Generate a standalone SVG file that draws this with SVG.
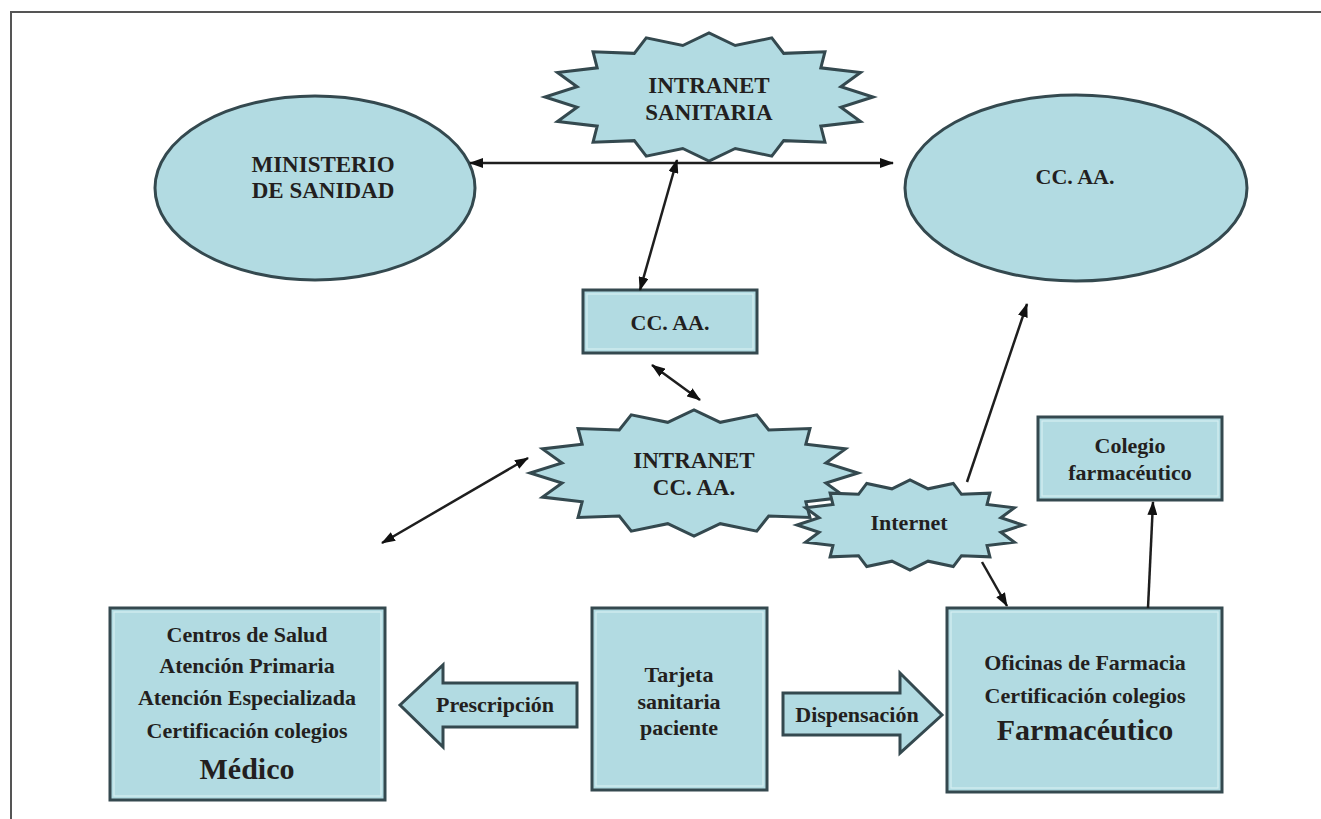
<svg xmlns="http://www.w3.org/2000/svg" xmlns:xlink="http://www.w3.org/1999/xlink" width="1321" height="819" viewBox="0 0 1321 819">
<style>
.shape{fill:#b2dbe2;stroke:#34494f;stroke-width:3}
.inner{fill:none;stroke:#d6eef2;stroke-width:1.2}
.star{fill:#b2dbe2;stroke:#34494f;stroke-width:3;vector-effect:non-scaling-stroke;stroke-linejoin:miter}
.t{font-family:'Liberation Serif','DejaVu Serif',serif;font-weight:bold;fill:#231f20;text-anchor:middle}
.conn{stroke:#1e1e1e;stroke-width:2.5;fill:none}
</style>
<defs>
<marker id="ah" viewBox="0 0 14 10" refX="13" refY="5" markerWidth="14" markerHeight="10" markerUnits="userSpaceOnUse" orient="auto-start-reverse">
<path d="M0,0 L14,5 L0,10 z" fill="#111"/>
</marker>
<polygon id="star" class="star" points="1,0 .8043,.16 .9239,.3827 .6818,.4556 .7071,.7071 .4556,.6818 .3827,.9239 .16,.8043 0,1 -.16,.8043 -.3827,.9239 -.4556,.6818 -.7071,.7071 -.6818,.4556 -.9239,.3827 -.8043,.16 -1,0 -.8043,-.16 -.9239,-.3827 -.6818,-.4556 -.7071,-.7071 -.4556,-.6818 -.3827,-.9239 -.16,-.8043 0,-1 .16,-.8043 .3827,-.9239 .4556,-.6818 .7071,-.7071 .6818,-.4556 .9239,-.3827 .8043,-.16"/>
</defs>
<rect width="1321" height="819" fill="#fff"/>
<path d="M11,819 V12 H1321" fill="none" stroke="#555" stroke-width="2"/>

<g id="ministerio">
<ellipse class="shape" cx="315" cy="188" rx="160" ry="92"/>
<text class="t" x="323" y="172" font-size="23">MINISTERIO</text>
<text class="t" x="323" y="198" font-size="23">DE SANIDAD</text>
</g>
<g id="ccaa-top">
<ellipse class="shape" cx="1076" cy="188" rx="171" ry="93"/>
<text class="t" x="1075" y="184" font-size="22">CC. AA.</text>
</g>
<g id="intranet-sanitaria">
<use xlink:href="#star" href="#star" transform="translate(709,97) scale(164,64)"/>
<text class="t" x="709" y="93" font-size="23">INTRANET</text>
<text class="t" x="709" y="120" font-size="23">SANITARIA</text>
</g>
<g id="ccaa-box">
<rect class="shape" x="583" y="290" width="174" height="63"/>
<rect class="inner" x="587" y="294" width="166" height="55"/>
<text class="t" x="670" y="330" font-size="22">CC. AA.</text>
</g>
<g id="intranet-ccaa">
<use xlink:href="#star" href="#star" transform="translate(694,473) scale(164,63)"/>
<text class="t" x="694" y="468" font-size="23">INTRANET</text>
<text class="t" x="694" y="495" font-size="23">CC. AA.</text>
</g>
<g id="internet">
<use xlink:href="#star" href="#star" transform="translate(910,525) scale(113,45)"/>
<text class="t" x="909" y="530" font-size="22">Internet</text>
</g>
<g id="colegio">
<rect class="shape" x="1038" y="417" width="184" height="83"/>
<rect class="inner" x="1042" y="421" width="176" height="75"/>
<text class="t" x="1130" y="453" font-size="22">Colegio</text>
<text class="t" x="1130" y="480" font-size="22">farmacéutico</text>
</g>
<g id="medico">
<rect class="shape" x="110" y="608" width="275" height="192"/>
<rect class="inner" x="114" y="612" width="267" height="184"/>
<text class="t" x="247" y="642" font-size="22">Centros de Salud</text>
<text class="t" x="247" y="673" font-size="22">Atención Primaria</text>
<text class="t" x="247" y="705" font-size="22">Atención Especializada</text>
<text class="t" x="247" y="738" font-size="22">Certificación colegios</text>
<text class="t" x="247" y="779" font-size="30">Médico</text>
</g>
<g id="prescripcion">
<polygon class="shape" points="400,705 443,665 443,683 577,683 577,727 443,727 443,747"/>
<text class="t" x="495" y="712" font-size="22">Prescripción</text>
</g>
<g id="tarjeta">
<rect class="shape" x="592" y="608" width="175" height="182"/>
<rect class="inner" x="596" y="612" width="167" height="174"/>
<text class="t" x="679" y="682" font-size="22">Tarjeta</text>
<text class="t" x="679" y="709" font-size="22">sanitaria</text>
<text class="t" x="679" y="735" font-size="22">paciente</text>
</g>
<g id="dispensacion">
<polygon class="shape" points="783,693 900,693 900,673 942,715 900,753 900,735 783,735"/>
<text class="t" x="857" y="722" font-size="22">Dispensación</text>
</g>
<g id="farmacia">
<rect class="shape" x="947" y="608" width="275" height="184"/>
<rect class="inner" x="951" y="612" width="267" height="176"/>
<text class="t" x="1085" y="670" font-size="22">Oficinas de Farmacia</text>
<text class="t" x="1085" y="703" font-size="22">Certificación colegios</text>
<text class="t" x="1085" y="740" font-size="30">Farmacéutico</text>
</g>

<g id="connectors">
<line class="conn" x1="470" y1="163" x2="893" y2="163" marker-start="url(#ah)" marker-end="url(#ah)"/>
<line class="conn" x1="677" y1="160" x2="640" y2="290" marker-start="url(#ah)" marker-end="url(#ah)"/>
<line class="conn" x1="652" y1="365" x2="700" y2="400" marker-start="url(#ah)" marker-end="url(#ah)"/>
<line class="conn" x1="528" y1="458" x2="382" y2="543" marker-start="url(#ah)" marker-end="url(#ah)"/>
<line class="conn" x1="967" y1="482" x2="1027" y2="304" marker-end="url(#ah)"/>
<line class="conn" x1="982" y1="562" x2="1007" y2="606" marker-end="url(#ah)"/>
<line class="conn" x1="1148" y1="608" x2="1153" y2="502" marker-end="url(#ah)"/>
</g>
</svg>
